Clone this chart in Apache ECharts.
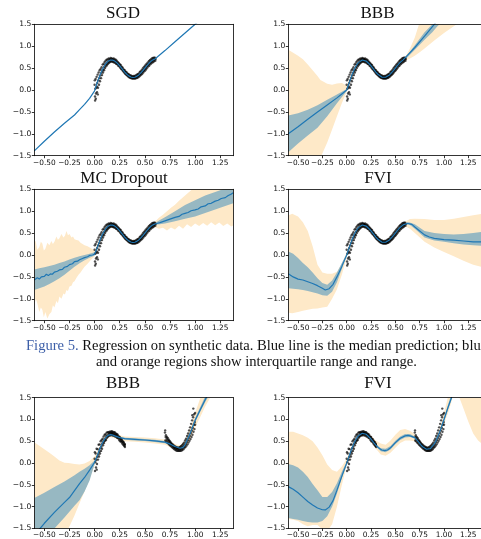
<!DOCTYPE html>
<html><head><meta charset="utf-8">
<script src="https://cdn.jsdelivr.net/npm/echarts@6/dist/echarts.min.js"></script>
<style>html,body{margin:0;padding:0;background:#fff}#c{width:481px;height:539px}</style>
</head><body><div id="c"></div><script>
// ---------- tick labels ----------
const X_TICKS = [-0.5, -0.25, 0, 0.25, 0.5, 0.75, 1.0, 1.25];
const Y_TICKS = [-1.5, -1.0, -0.5, 0, 0.5, 1.0, 1.5];
const TITLES = ['SGD', 'BBB', 'MC Dropout', 'FVI', 'BBB', 'FVI'];

// ---------- observed data (scatter) ----------
const DATA_TOP = [[0,0.12],[0.004,-0.15],[0.007,0.03],[0.005,-0.24],[0.002,0.22],
[0.01,0.25],[0.014,-0.08],[0.017,0.05],[0.012,-0.2],[0.02,0.3],[0.024,-0.05],[0.027,0.16],[0.022,0.08],
[0.03,0.35],[0.034,0.05],[0.037,0.22],[0.032,-0.1],[0.04,0.4],[0.044,0.12],[0.047,0.27],
[0.05,0.45],[0.054,0.2],[0.057,0.33],[0.06,0.48],[0.064,0.27],[0.067,0.39],
[0.07,0.52],[0.074,0.34],[0.077,0.44],[0.08,0.58],[0.084,0.4],[0.087,0.47],
[0.09,0.6],[0.094,0.45],[0.097,0.53],[0.1,0.64],[0.104,0.5],[0.107,0.57],
[0.11,0.67],[0.114,0.54],[0.117,0.6],[0.12,0.69],[0.124,0.57],[0.127,0.63],
[0.13,0.7],[0.134,0.6],[0.137,0.65],[0.14,0.72],[0.144,0.62],[0.147,0.67],
[0.15,0.71],[0.154,0.64],[0.157,0.69],[0.16,0.73],[0.164,0.65],[0.167,0.68],
[0.17,0.72],[0.174,0.65],[0.177,0.7],[0.18,0.71],[0.184,0.64],[0.187,0.68],
[0.19,0.72],[0.194,0.63],[0.197,0.67],[0.2,0.7],[0.204,0.62],[0.207,0.66],
[0.21,0.69],[0.214,0.6],[0.217,0.64],[0.22,0.67],[0.224,0.59],[0.227,0.61],
[0.23,0.64],[0.234,0.56],[0.237,0.59],[0.24,0.62],[0.244,0.54],[0.247,0.57],
[0.25,0.59],[0.254,0.51],[0.257,0.54],[0.26,0.57],[0.264,0.48],[0.267,0.51],
[0.27,0.53],[0.274,0.46],[0.277,0.48],[0.28,0.51],[0.284,0.43],[0.287,0.45],
[0.29,0.47],[0.294,0.4],[0.297,0.42],[0.3,0.45],[0.304,0.37],[0.307,0.4],
[0.31,0.42],[0.314,0.35],[0.317,0.37],[0.32,0.4],[0.324,0.33],[0.327,0.35],
[0.33,0.37],[0.334,0.31],[0.337,0.33],[0.34,0.36],[0.344,0.29],[0.347,0.31],
[0.35,0.34],[0.354,0.28],[0.357,0.3],[0.36,0.33],[0.364,0.27],[0.367,0.29],
[0.37,0.32],[0.374,0.26],[0.377,0.29],[0.38,0.31],[0.384,0.26],[0.387,0.28],
[0.39,0.32],[0.394,0.26],[0.397,0.29],[0.4,0.32],[0.404,0.26],[0.407,0.29],
[0.41,0.33],[0.414,0.27],[0.417,0.3],[0.42,0.35],[0.424,0.28],[0.427,0.32],
[0.43,0.36],[0.434,0.29],[0.437,0.33],[0.44,0.38],[0.444,0.31],[0.447,0.35],
[0.45,0.41],[0.454,0.33],[0.457,0.37],[0.46,0.43],[0.464,0.35],[0.467,0.4],
[0.47,0.46],[0.474,0.37],[0.477,0.42],[0.48,0.49],[0.484,0.4],[0.487,0.45],
[0.49,0.52],[0.494,0.43],[0.497,0.48],[0.5,0.55],[0.504,0.45],[0.507,0.51],
[0.51,0.58],[0.514,0.48],[0.517,0.54],[0.52,0.6],[0.524,0.51],[0.527,0.57],
[0.53,0.63],[0.534,0.54],[0.537,0.59],[0.54,0.66],[0.544,0.56],[0.547,0.62],
[0.55,0.68],[0.554,0.59],[0.557,0.64],[0.56,0.7],[0.564,0.61],[0.567,0.66],
[0.57,0.72],[0.574,0.63],[0.577,0.68],[0.58,0.73],[0.584,0.64],[0.587,0.69],
[0.59,0.74],[0.594,0.66],[0.597,0.7],[0.6,0.74],[0.604,0.67],[0.607,0.71]];

const DATA_BOTTOM = [[0,0.1],[0.004,-0.18],[0.007,0.02],[0.003,0.25],
[0.01,0.22],[0.014,-0.1],[0.017,0.07],[0.02,0.33],[0.024,-0.02],[0.027,0.14],[0.021,-0.15],
[0.03,0.32],[0.034,0.08],[0.037,0.2],[0.04,0.42],[0.044,0.15],[0.047,0.26],
[0.05,0.43],[0.054,0.22],[0.057,0.34],[0.06,0.5],[0.064,0.28],[0.067,0.38],
[0.07,0.53],[0.074,0.33],[0.077,0.45],[0.08,0.56],[0.084,0.41],[0.087,0.49],
[0.09,0.61],[0.094,0.46],[0.097,0.52],[0.1,0.65],[0.104,0.51],[0.107,0.56],
[0.11,0.66],[0.114,0.53],[0.117,0.61],[0.12,0.7],[0.124,0.58],[0.127,0.62],
[0.13,0.71],[0.134,0.61],[0.137,0.66],[0.14,0.71],[0.144,0.63],[0.147,0.68],
[0.15,0.72],[0.154,0.64],[0.157,0.68],[0.16,0.72],[0.164,0.64],[0.167,0.69],
[0.17,0.73],[0.174,0.66],[0.177,0.69],[0.18,0.72],[0.184,0.63],[0.187,0.67],
[0.19,0.71],[0.194,0.64],[0.197,0.68],[0.2,0.71],[0.204,0.61],[0.207,0.65],
[0.21,0.68],[0.214,0.61],[0.217,0.65],[0.22,0.67],[0.224,0.58],[0.227,0.62],
[0.23,0.65],[0.234,0.57],[0.237,0.6],[0.24,0.61],[0.244,0.53],[0.247,0.58],
[0.25,0.6],[0.254,0.5],[0.257,0.55],[0.26,0.56],[0.264,0.49],[0.267,0.52],
[0.27,0.54],[0.274,0.45],[0.277,0.49],[0.28,0.5],[0.284,0.42],[0.287,0.46],
[0.29,0.48],[0.294,0.39],[0.297,0.43],[0.3,0.44],[0.302,0.37],[0.3,0.41],
[0.7,0.7],[0.704,0.52],[0.707,0.6],[0.702,0.75],[0.71,0.64],[0.714,0.5],[0.717,0.56],
[0.72,0.6],[0.724,0.47],[0.727,0.53],[0.73,0.57],[0.734,0.45],[0.737,0.5],
[0.74,0.53],[0.744,0.42],[0.747,0.48],[0.75,0.5],[0.754,0.4],[0.757,0.45],
[0.76,0.47],[0.764,0.38],[0.767,0.42],[0.77,0.44],[0.774,0.36],[0.777,0.4],
[0.78,0.42],[0.784,0.34],[0.787,0.37],[0.79,0.4],[0.794,0.32],[0.797,0.35],
[0.8,0.38],[0.804,0.3],[0.807,0.34],[0.81,0.37],[0.814,0.29],[0.817,0.33],
[0.82,0.36],[0.824,0.28],[0.827,0.32],[0.83,0.35],[0.834,0.28],[0.837,0.31],
[0.84,0.36],[0.844,0.28],[0.847,0.32],[0.85,0.37],[0.854,0.28],[0.857,0.33],
[0.86,0.39],[0.864,0.29],[0.867,0.34],[0.87,0.41],[0.874,0.3],[0.877,0.36],
[0.88,0.44],[0.884,0.32],[0.887,0.38],[0.89,0.47],[0.894,0.35],[0.897,0.41],
[0.9,0.52],[0.904,0.37],[0.907,0.45],[0.91,0.56],[0.914,0.4],[0.917,0.49],
[0.92,0.62],[0.924,0.43],[0.927,0.53],[0.93,0.68],[0.934,0.47],[0.937,0.58],
[0.94,0.75],[0.944,0.51],[0.947,0.63],[0.95,0.82],[0.954,0.55],[0.957,0.69],
[0.96,0.9],[0.964,0.6],[0.967,0.75],[0.97,0.98],[0.974,0.65],[0.977,0.81],[0.972,1.1],
[0.98,1.05],[0.984,0.72],[0.987,0.88],[0.982,1.25],[0.99,1.12],[0.994,0.78],[0.997,0.94],
[1.0,1.15],[1.0,0.88]];

// ---------- median prediction lines ----------
const MID_CURVE = [[0.02,0.132],[0.04,0.259],[0.06,0.375],[0.08,0.478],[0.1,0.561],[0.12,0.625],[0.14,0.666],[0.16,0.684],[0.18,0.682],[0.2,0.661],[0.22,0.625],[0.24,0.577],[0.26,0.522],[0.28,0.465],[0.3,0.409],[0.32,0.36],[0.34,0.322],[0.36,0.296],[0.38,0.286],[0.4,0.291],[0.42,0.312],[0.44,0.345],[0.46,0.39],[0.48,0.443],[0.5,0.5],[0.52,0.557],[0.54,0.61],[0.56,0.655],[0.58,0.688],[0.6,0.709]];
const SGD_L = [[-0.6,-1.39],[-0.5,-1.17],[-0.4,-0.96],[-0.3,-0.76],[-0.2,-0.57],[-0.15,-0.45],[-0.1,-0.33],[-0.05,-0.19],[0,-0.02]];
const SGD_R = [[0.7,0.9],[0.8,1.1],[0.9,1.3],[1.0,1.5],[1.1,1.7]];
const BBB_L = [[-0.6,-1.0],[-0.5,-0.84],[-0.4,-0.67],[-0.3,-0.5],[-0.2,-0.34],[-0.1,-0.18],[-0.05,-0.09],[0,0.0]];
const BBB_R = [[0.7,0.97],[0.8,1.23],[0.9,1.5],[1.0,1.76]];
const MC_L = [[-0.6,-0.57],[-0.57,-0.52],[-0.55,-0.55],[-0.53,-0.5],[-0.5,-0.49],[-0.48,-0.44],[-0.46,-0.47],[-0.44,-0.43],[-0.42,-0.44],[-0.4,-0.39],[-0.37,-0.37],[-0.35,-0.34],[-0.32,-0.33],[-0.3,-0.28],[-0.27,-0.26],[-0.25,-0.22],[-0.22,-0.2],[-0.2,-0.15],[-0.17,-0.14],[-0.15,-0.11],[-0.12,-0.08],[-0.1,-0.06],[-0.07,-0.04],[-0.05,-0.01],[-0.02,0.0],[0,0.02]];
const MC_R = [[0.62,0.72],[0.65,0.74],[0.7,0.78],[0.75,0.82],[0.8,0.86],[0.84,0.88],[0.87,0.93],[0.9,0.95],[0.93,0.97],[0.96,1.01],[1.0,1.03],[1.03,1.05],[1.06,1.1],[1.1,1.12],[1.13,1.17],[1.16,1.18],[1.2,1.23],[1.23,1.25],[1.26,1.29],[1.3,1.31],[1.33,1.36],[1.36,1.39],[1.38,1.42]];
const FVI_L = [[-0.6,-0.43],[-0.55,-0.5],[-0.5,-0.55],[-0.45,-0.57],[-0.4,-0.61],[-0.35,-0.65],[-0.3,-0.7],[-0.25,-0.76],[-0.22,-0.8],[-0.18,-0.77],[-0.14,-0.67],[-0.1,-0.5],[-0.05,-0.26],[0,0.0]];
const FVI_R = [[0.62,0.72],[0.64,0.72],[0.67,0.7],[0.7,0.64],[0.75,0.55],[0.8,0.46],[0.85,0.41],[0.9,0.38],[1.0,0.35],[1.1,0.34],[1.2,0.32],[1.3,0.3],[1.4,0.3]];
const BBB2_LINE = [[-0.6,-1.66],[-0.5,-1.38],[-0.4,-1.13],[-0.3,-0.9],[-0.25,-0.79],[-0.2,-0.63],[-0.15,-0.47],[-0.1,-0.33],[-0.05,-0.16],[0,0.02],[0.02,0.13],[0.04,0.26],[0.06,0.37],[0.08,0.47],[0.1,0.55],[0.12,0.61],[0.14,0.645],[0.16,0.655],[0.18,0.645],[0.2,0.625],[0.25,0.585],[0.3,0.56],[0.4,0.545],[0.5,0.53],[0.6,0.51],[0.7,0.48],[0.75,0.44],[0.8,0.38],[0.85,0.34],[0.88,0.36],[0.9,0.42],[0.95,0.68],[1.0,0.98],[1.05,1.22],[1.11,1.5],[1.2,1.82]];
const FVI2_LINE = [[-0.6,-0.54],[-0.55,-0.6],[-0.5,-0.68],[-0.45,-0.78],[-0.4,-0.88],[-0.35,-0.96],[-0.3,-1.03],[-0.25,-1.07],[-0.22,-1.075],[-0.18,-1.01],[-0.14,-0.86],[-0.1,-0.62],[-0.05,-0.3],[0,0.0],[0.02,0.132],[0.04,0.259],[0.06,0.375],[0.08,0.478],[0.1,0.561],[0.12,0.625],[0.14,0.666],[0.16,0.684],[0.18,0.682],[0.2,0.661],[0.22,0.625],[0.24,0.577],[0.26,0.522],[0.28,0.465],[0.3,0.41],[0.33,0.345],[0.36,0.3],[0.39,0.285],[0.42,0.3],[0.45,0.35],[0.5,0.47],[0.55,0.57],[0.6,0.625],[0.63,0.635],[0.66,0.62],[0.7,0.585],[0.72,0.535],[0.74,0.479],[0.76,0.424],[0.78,0.375],[0.8,0.339],[0.82,0.318],[0.84,0.316],[0.86,0.334],[0.88,0.376],[0.9,0.439],[0.92,0.522],[0.94,0.625],[0.96,0.74],[0.98,0.868],[1.0,1.0],[1.04,1.27],[1.08,1.52],[1.12,1.8]];

// ---------- bands [x, low, high] ----------
const MID_RANGE = [[0.05,0.27,0.36],[0.1,0.515,0.605],[0.15,0.63,0.72],[0.2,0.615,0.705],[0.25,0.505,0.595],[0.3,0.365,0.455],[0.35,0.265,0.355],[0.4,0.245,0.335],[0.45,0.32,0.41],[0.5,0.455,0.545],[0.55,0.59,0.68]];
const MID_IQR = [[0.05,0.3,0.335],[0.1,0.545,0.575],[0.15,0.66,0.69],[0.2,0.645,0.675],[0.25,0.535,0.565],[0.3,0.395,0.425],[0.35,0.29,0.32],[0.4,0.275,0.305],[0.45,0.35,0.38],[0.5,0.485,0.515],[0.55,0.615,0.645]];
const BBB_RANGE_L = [[-0.6,-2.5,0.92],[-0.5,-2.2,0.78],[-0.45,-2.05,0.7],[-0.4,-1.9,0.58],[-0.35,-1.76,0.45],[-0.3,-1.62,0.32],[-0.27,-1.55,0.23],[-0.2,-1.2,0.14],[-0.15,-0.9,0.12],[-0.1,-0.6,0.15],[-0.05,-0.3,0.16],[0,-0.04,0.1]];
const BBB_RANGE_R = [[0.6,0.67,0.75],[0.65,0.72,0.95],[0.7,0.78,1.2],[0.75,0.86,1.55],[0.8,0.95,1.9],[0.9,1.13,2.5],[1.0,1.3,3.0],[1.13,1.5,3.6],[1.4,1.9,4.5]];
const BBB_IQR_L = [[-0.6,-1.42,-0.58],[-0.5,-1.22,-0.53],[-0.4,-1.04,-0.45],[-0.3,-0.86,-0.35],[-0.2,-0.6,-0.22],[-0.1,-0.3,-0.1],[0,-0.02,0.02]];
const BBB_IQR_R = [[0.6,0.69,0.73],[0.7,0.92,1.02],[0.8,1.15,1.32],[0.88,1.32,1.5],[0.93,1.45,1.62],[1.0,1.6,1.8],[1.4,2.5,2.9]];
const MC_RANGE_L = [[-0.6,-1.15,0.35],[-0.585,-1.0,0.3],[-0.57,-1.1,0.12],[-0.55,-1.3,0.18],[-0.535,-1.2,0.3],[-0.52,-1.25,0.26],[-0.505,-1.42,0.1],[-0.49,-1.3,0.14],[-0.47,-1.45,0.28],[-0.45,-1.35,0.22],[-0.43,-1.3,0.32],[-0.415,-1.15,0.25],[-0.4,-1.2,0.3],[-0.38,-1.05,0.42],[-0.365,-1.1,0.35],[-0.35,-0.95,0.38],[-0.33,-1.0,0.48],[-0.31,-0.88,0.4],[-0.295,-0.9,0.44],[-0.28,-0.8,0.55],[-0.265,-0.82,0.45],[-0.25,-0.72,0.48],[-0.23,-0.7,0.4],[-0.215,-0.62,0.42],[-0.2,-0.6,0.36],[-0.18,-0.52,0.34],[-0.16,-0.45,0.33],[-0.14,-0.4,0.28],[-0.12,-0.33,0.25],[-0.1,-0.27,0.22],[-0.07,-0.2,0.2],[-0.04,-0.12,0.16],[0,-0.03,0.1]];
const MC_RANGE_R = [[0.6,0.64,0.76],[0.64,0.6,0.85],[0.68,0.62,0.92],[0.72,0.56,1.0],[0.76,0.63,1.08],[0.8,0.58,1.15],[0.84,0.67,1.24],[0.88,0.6,1.32],[0.92,0.7,1.4],[0.96,0.64,1.48],[1.0,0.72,1.56],[1.04,0.66,1.62],[1.08,0.73,1.7],[1.12,0.67,1.76],[1.16,0.75,1.84],[1.2,0.68,1.9],[1.24,0.74,1.96],[1.28,0.66,2.0],[1.32,0.72,2.05],[1.36,0.65,2.1],[1.4,0.7,2.15]];
const MC_IQR_L = [[-0.6,-0.8,-0.33],[-0.55,-0.76,-0.3],[-0.5,-0.72,-0.28],[-0.45,-0.66,-0.25],[-0.4,-0.6,-0.22],[-0.35,-0.53,-0.18],[-0.3,-0.45,-0.15],[-0.25,-0.36,-0.1],[-0.2,-0.27,-0.06],[-0.15,-0.19,-0.03],[-0.1,-0.12,0.0],[-0.05,-0.06,0.03],[0,-0.01,0.06]];
const MC_IQR_R = [[0.6,0.69,0.73],[0.65,0.7,0.8],[0.7,0.72,0.86],[0.8,0.77,1.0],[0.9,0.83,1.14],[1.0,0.88,1.25],[1.1,0.96,1.36],[1.2,1.04,1.44],[1.3,1.12,1.52],[1.4,1.2,1.6]];
const FVI_RANGE_L = [[-0.6,-1.32,0.9],[-0.56,-1.33,0.94],[-0.5,-1.3,0.88],[-0.45,-1.27,0.75],[-0.4,-1.25,0.55],[-0.35,-1.23,0.2],[-0.3,-1.22,-0.22],[-0.25,-1.2,-0.4],[-0.2,-1.18,-0.43],[-0.15,-1.0,-0.43],[-0.1,-0.78,-0.38],[-0.05,-0.45,-0.2],[0,-0.06,0.06]];
const FVI_RANGE_R = [[0.6,0.66,0.76],[0.65,0.6,0.82],[0.7,0.5,0.83],[0.8,0.3,0.82],[0.9,0.17,0.8],[1.0,0.07,0.8],[1.1,-0.03,0.83],[1.2,-0.13,0.87],[1.3,-0.22,0.91],[1.4,-0.28,0.94]];
const FVI_IQR_L = [[-0.6,-0.76,0.08],[-0.55,-0.77,0.03],[-0.5,-0.78,-0.07],[-0.45,-0.8,-0.18],[-0.4,-0.82,-0.28],[-0.35,-0.85,-0.4],[-0.3,-0.88,-0.53],[-0.25,-0.92,-0.64],[-0.2,-0.93,-0.68],[-0.15,-0.84,-0.58],[-0.1,-0.62,-0.4],[-0.05,-0.32,-0.18],[0,-0.02,0.02]];
const FVI_IQR_R = [[0.6,0.69,0.73],[0.64,0.7,0.75],[0.7,0.6,0.7],[0.8,0.4,0.55],[0.9,0.33,0.5],[1.0,0.3,0.48],[1.1,0.27,0.47],[1.2,0.24,0.48],[1.3,0.22,0.5],[1.4,0.21,0.53]];
const BBB2_RANGE = [[-0.6,-2.6,0.48],[-0.5,-2.3,0.32],[-0.45,-2.15,0.24],[-0.4,-2.0,0.15],[-0.35,-1.8,0.06],[-0.3,-1.65,0.01],[-0.26,-1.5,0.0],[-0.2,-1.2,-0.02],[-0.15,-0.92,-0.03],[-0.1,-0.65,-0.01],[-0.05,-0.35,0.05],[0,-0.06,0.15],[0.05,0.27,0.38],[0.1,0.5,0.62],[0.15,0.6,0.71],[0.2,0.57,0.68],[0.25,0.53,0.64],[0.3,0.5,0.61],[0.4,0.49,0.6],[0.5,0.47,0.59],[0.6,0.45,0.57],[0.7,0.42,0.54],[0.8,0.32,0.44],[0.85,0.29,0.4],[0.9,0.36,0.5],[0.95,0.56,0.8],[1.0,0.82,1.15],[1.05,1.05,1.48],[1.1,1.3,1.75],[1.15,1.5,2.0],[1.2,1.7,2.3]];
const BBB2_IQR = [[-0.6,-2.1,-0.8],[-0.5,-1.8,-0.68],[-0.4,-1.5,-0.55],[-0.3,-1.25,-0.42],[-0.2,-0.98,-0.28],[-0.15,-0.85,-0.2],[-0.1,-0.65,-0.13],[-0.05,-0.4,-0.05],[0,-0.02,0.06],[0.05,0.3,0.34],[0.1,0.53,0.57],[0.15,0.635,0.67],[0.2,0.6,0.645],[0.25,0.56,0.605],[0.3,0.535,0.58],[0.4,0.52,0.57],[0.5,0.505,0.555],[0.6,0.485,0.535],[0.7,0.455,0.505],[0.8,0.36,0.4],[0.85,0.32,0.36],[0.9,0.4,0.44],[0.95,0.65,0.71],[1.0,0.94,1.03],[1.05,1.17,1.28],[1.11,1.44,1.58],[1.2,1.75,1.9]];
const FVI2_RANGE = [[-0.6,-1.28,0.72],[-0.55,-1.3,0.72],[-0.5,-1.33,0.68],[-0.45,-1.4,0.64],[-0.4,-1.45,0.58],[-0.35,-1.42,0.5],[-0.3,-1.42,0.36],[-0.25,-1.52,0.18],[-0.2,-1.56,-0.03],[-0.15,-1.4,-0.16],[-0.1,-1.0,-0.2],[-0.05,-0.5,-0.08],[0,-0.06,0.1],[0.05,0.27,0.37],[0.1,0.51,0.61],[0.15,0.63,0.72],[0.2,0.61,0.71],[0.25,0.5,0.62],[0.3,0.33,0.52],[0.35,0.2,0.45],[0.4,0.17,0.42],[0.45,0.24,0.52],[0.5,0.35,0.65],[0.55,0.46,0.76],[0.6,0.52,0.78],[0.65,0.52,0.74],[0.7,0.5,0.66],[0.75,0.42,0.5],[0.8,0.3,0.38],[0.85,0.29,0.37],[0.9,0.4,0.48],[0.95,0.63,0.75],[1.0,0.9,1.15],[1.05,1.2,1.6],[1.1,1.6,2.0],[1.15,1.55,2.2],[1.2,1.25,2.4],[1.25,0.95,2.5],[1.3,0.68,2.6],[1.35,0.52,2.7],[1.4,0.42,2.8]];
const FVI2_IQR = [[-0.6,-1.26,-0.02],[-0.55,-1.28,-0.05],[-0.5,-1.3,-0.1],[-0.45,-1.33,-0.2],[-0.4,-1.35,-0.32],[-0.35,-1.36,-0.48],[-0.3,-1.36,-0.62],[-0.25,-1.33,-0.78],[-0.2,-1.22,-0.78],[-0.15,-1.0,-0.66],[-0.1,-0.7,-0.46],[-0.05,-0.35,-0.2],[0,-0.03,0.03],[0.05,0.3,0.34],[0.1,0.545,0.58],[0.15,0.66,0.69],[0.2,0.645,0.675],[0.25,0.53,0.57],[0.3,0.38,0.44],[0.35,0.27,0.34],[0.4,0.25,0.33],[0.45,0.31,0.39],[0.5,0.43,0.51],[0.55,0.53,0.61],[0.6,0.59,0.67],[0.65,0.6,0.67],[0.7,0.56,0.61],[0.75,0.43,0.47],[0.8,0.32,0.355],[0.85,0.305,0.34],[0.9,0.42,0.46],[0.95,0.66,0.71],[1.0,0.96,1.04],[1.05,1.28,1.4],[1.1,1.6,1.75],[1.2,2.1,2.4]];

// ---------- panels ----------
const PANELS = [
  {data: DATA_TOP, line: SGD_L.concat(MID_CURVE, SGD_R), range: null, iqr: null},
  {data: DATA_TOP, line: BBB_L.concat(MID_CURVE, BBB_R), range: BBB_RANGE_L.concat(MID_RANGE, BBB_RANGE_R), iqr: BBB_IQR_L.concat(MID_IQR, BBB_IQR_R)},
  {data: DATA_TOP, line: MC_L.concat(MID_CURVE, MC_R), range: MC_RANGE_L.concat(MID_RANGE, MC_RANGE_R), iqr: MC_IQR_L.concat(MID_IQR, MC_IQR_R)},
  {data: DATA_TOP, line: FVI_L.concat(MID_CURVE, FVI_R), range: FVI_RANGE_L.concat(MID_RANGE, FVI_RANGE_R), iqr: FVI_IQR_L.concat(MID_IQR, FVI_IQR_R)},
  {data: DATA_BOTTOM, line: BBB2_LINE, range: BBB2_RANGE, iqr: BBB2_IQR},
  {data: DATA_BOTTOM, line: FVI2_LINE, range: FVI2_RANGE, iqr: FVI2_IQR}
];

// ---------- layout ----------
const GRID_POS = [[34.3,24.3],[288.3,24.3],[34.3,189.3],[288.3,189.3],[34.3,397.7],[288.3,397.7]];
const GRID_W = 199, GRID_H = 131.4;
const TITLE_POS = [[123,13.5],[377.5,13.5],[124,178.5],[378,178.5],[123,383.5],[378,383.5]];
const ORANGE = '#fee9c8', TEAL = '#97b8c2', BLUE = '#1f77b4';

const minus = s => s.replace('-', '\u2212');
const grids = [], xAxes = [], yAxes = [], series = [], graphics = [];
const axisCommon = {
  axisLine: {show: true, onZero: false, lineStyle: {color: '#000', width: 0.8}},
  splitLine: {show: false}, z: 10
};

// band drawn as one polygon through the axes' own coordinate mapping
function bandSeries(band, color, ax) {
  return Object.assign({
    type: 'custom', silent: true, animation: false, clip: true,
    data: band, encode: {x: 0, y: [1, 2]},
    renderItem: function (params, api) {
      if (params.dataIndex !== 0) return null;
      const upper = band.map(d => api.coord([d[0], d[2]]));
      const lower = band.map(d => api.coord([d[0], d[1]])).reverse();
      const cs = params.coordSys;
      return {
        type: 'polygon', shape: {points: upper.concat(lower)},
        style: {fill: color, stroke: null},
        clipPath: {type: 'rect', shape: {x: cs.x, y: cs.y, width: cs.width, height: cs.height}}
      };
    }
  }, ax);
}

PANELS.forEach((p, i) => {
  grids.push({left: GRID_POS[i][0], top: GRID_POS[i][1], width: GRID_W, height: GRID_H});
  const xi = xAxes.length, yi = yAxes.length;
  xAxes.push(Object.assign({}, axisCommon, {
    gridIndex: i, type: 'value', min: -0.6, max: 1.38, position: 'bottom',
    axisTick: {show: true, customValues: X_TICKS, length: 2.5, lineStyle: {color: '#000', width: 0.8}},
    axisLabel: {customValues: X_TICKS, formatter: v => minus(v.toFixed(2)), fontSize: 7.4,
      fontFamily: 'DejaVu Sans', color: '#111', margin: 3.5, showMinLabel: true, showMaxLabel: true, hideOverlap: false}
  }));
  xAxes.push(Object.assign({}, axisCommon, {
    gridIndex: i, type: 'value', min: -0.6, max: 1.38, position: 'top',
    axisTick: {show: false}, axisLabel: {show: false}
  }));
  yAxes.push(Object.assign({}, axisCommon, {
    gridIndex: i, type: 'value', min: -1.5, max: 1.5, interval: 0.5, position: 'left',
    axisTick: {show: true, length: 2.5, lineStyle: {color: '#000', width: 0.8}},
    axisLabel: {formatter: v => minus(v.toFixed(1)), fontSize: 7.6, fontFamily: 'DejaVu Sans',
      color: '#111', margin: 3, showMinLabel: true, showMaxLabel: true}
  }));
  yAxes.push(Object.assign({}, axisCommon, {
    gridIndex: i, type: 'value', min: -1.5, max: 1.5, position: 'right',
    axisTick: {show: false}, axisLabel: {show: false}
  }));
  const ax = {xAxisIndex: xi, yAxisIndex: yi};
  if (p.range) series.push(bandSeries(p.range, ORANGE, ax));
  if (p.iqr) series.push(bandSeries(p.iqr, TEAL, ax));
  series.push(Object.assign({type: 'scatter', data: p.data, symbolSize: 2.4, silent: true, animation: false,
    itemStyle: {color: 'rgba(0,0,0,0.85)'}}, ax));
  series.push(Object.assign({type: 'line', data: p.line, symbol: 'none', silent: true, animation: false, clip: true,
    lineStyle: {color: BLUE, width: 1.2}}, ax));
  graphics.push({type: 'text', x: TITLE_POS[i][0], y: TITLE_POS[i][1], z: 20,
    style: {text: TITLES[i], font: '17px "Liberation Serif"', fill: '#111', textAlign: 'center', textVerticalAlign: 'middle'}});
});

graphics.push({type: 'text', x: 26, y: 345.7, z: 20, style: {
  text: '{b|Figure 5.} Regression on synthetic data. Blue line is the median prediction; blue',
  font: '14.6px "Liberation Serif"', fill: '#111', textVerticalAlign: 'middle',
  rich: {b: {fill: '#3d5fa8', font: '14.6px "Liberation Serif"'}}}});
graphics.push({type: 'text', x: 256.5, y: 362, z: 20, style: {
  text: 'and orange regions show interquartile range and range.',
  font: '14.6px "Liberation Serif"', fill: '#111', textAlign: 'center', textVerticalAlign: 'middle'}});

const chart = echarts.init(document.getElementById('c'), null, {renderer: 'canvas'});
chart.setOption({animation: false, grid: grids, xAxis: xAxes, yAxis: yAxes, series: series, graphic: graphics});
</script></body></html>
